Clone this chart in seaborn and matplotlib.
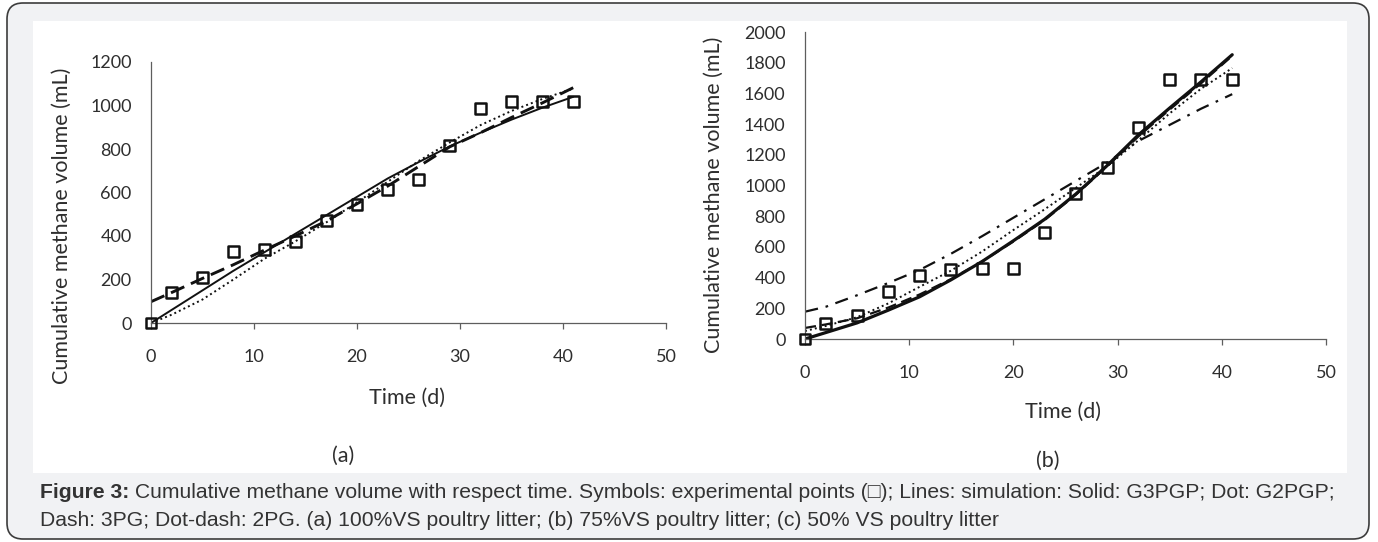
import numpy as np
import pandas as pd
import matplotlib
matplotlib.use("Agg")
import matplotlib.pyplot as plt
import seaborn as sns
from matplotlib.patches import FancyBboxPatch, Rectangle
from matplotlib.transforms import IdentityTransform

sns.set_style("white")
plt.rcParams['font.family'] = ['Lato', 'DejaVu Sans']

# ---------------- data ----------------
time = [0, 2, 5, 8, 11, 14, 17, 20, 23, 26, 29, 32, 35, 38, 41]

# panel (a) 100%VS poultry litter
a_exp = [0, 140, 210, 330, 340, 375, 470, 545, 615, 660, 815, 985, 1018, 1017, 1017]
a_g3pgp = [0, 60, 150, 240, 325, 410, 495, 580, 665, 740, 812, 875, 935, 990, 1040]
a_g2pgp = [0, 38, 108, 200, 295, 375, 462, 555, 650, 745, 830, 910, 975, 1030, 1078]
a_3pg = [98, 140, 205, 268, 335, 400, 468, 548, 630, 720, 810, 875, 945, 1012, 1082]

# panel (b) 75%VS poultry litter
b_exp = [0, 100, 155, 310, 415, 450, 460, 460, 695, 950, 1120, 1375, 1692, 1692, 1692]
b_g3pgp = [0, 42, 105, 188, 275, 385, 505, 640, 780, 945, 1130, 1330, 1505, 1675, 1852]
b_g2pgp = [52, 85, 142, 232, 340, 445, 570, 710, 845, 985, 1125, 1295, 1470, 1630, 1765]
b_3pg = [72, 95, 135, 205, 290, 390, 505, 635, 775, 940, 1125, 1320, 1495, 1665, 1845]
b_2pg = [178, 210, 285, 365, 450, 555, 670, 790, 910, 1030, 1150, 1290, 1395, 1500, 1595]

x_ticks = [0, 10, 20, 30, 40, 50]
a_yticks = [0, 200, 400, 600, 800, 1000, 1200]
b_yticks = [0, 200, 400, 600, 800, 1000, 1200, 1400, 1600, 1800, 2000]

xlabel = "Time (d)"
ylabel = "Cumulative methane volume (mL)"
caption_bold = "Figure 3:"
caption_1 = (" Cumulative methane volume with respect time. Symbols: experimental points (\u25a1); "
             "Lines: simulation: Solid: G3PGP; Dot: G2PGP;")
caption_2 = ("Dash: 3PG; Dot-dash: 2PG. (a) 100%VS poultry litter; (b) 75%VS poultry litter; "
             "(c) 50% VS poultry litter")

W, H = 1378, 542
fig = plt.figure(figsize=(W / 100, H / 100), dpi=100)
fig.patch.set_facecolor('white')

# page frame
frame = FancyBboxPatch((7, 3), 1362, 536, boxstyle="round,pad=0,rounding_size=16",
                       transform=IdentityTransform(), facecolor='#f1f2f4',
                       edgecolor='#3c3c3c', linewidth=1.2, zorder=-3)
fig.add_artist(frame)
fig.add_artist(Rectangle((33, 69), 1314, 452, transform=IdentityTransform(),
                         facecolor='white', edgecolor='none', zorder=-2))

TXT = '#2e2e2e'
AX = '#5e5e5e'


def fpos(l, r, t, b):
    return [l / W, (H - b) / H, (r - l) / W, (b - t) / H]


def style_axes(ax, ymax, yticks):
    ax.set_xlim(0, 50)
    ax.set_ylim(0, ymax)
    ax.set_xticks(x_ticks)
    ax.set_yticks(yticks)
    ax.set_facecolor('none')
    for s in ['top', 'right']:
        ax.spines[s].set_visible(False)
    for s in ['left', 'bottom']:
        ax.spines[s].set_color(AX)
        ax.spines[s].set_linewidth(0.9)
    ax.tick_params(axis='x', direction='out', length=4, width=0.9, color=AX,
                   pad=15, labelsize=13, labelcolor=TXT, bottom=True)
    ax.tick_params(axis='y', length=0, pad=14, labelsize=13, labelcolor=TXT, left=True)
    ax.grid(False)


def draw_line(ax, y, lw, dashes=None):
    df = pd.DataFrame({'t': time, 'v': y})
    sns.lineplot(data=df, x='t', y='v', ax=ax, color='#111111', linewidth=lw,
                 estimator=None, sort=False, legend=False)
    ln = ax.lines[-1]
    if dashes is not None:
        ln.set_dashes(dashes)
        ln.set_dash_capstyle('butt')
    return ln


def draw_points(ax, y):
    df = pd.DataFrame({'t': time, 'v': y})
    sns.scatterplot(data=df, x='t', y='v', ax=ax, marker='s', s=62, color='#111111',
                    edgecolor='#111111', linewidth=1.8, legend=False, zorder=5)
    coll = ax.collections[-1]
    coll.set_facecolor('none')
    coll.set_clip_on(False)


# ---------------- panel (a) ----------------
axa = fig.add_axes(fpos(151, 666, 62, 323))
draw_line(axa, a_g2pgp, 1.4, dashes=(1, 1.6))
draw_line(axa, a_3pg, 2.1, dashes=(5, 2.5))
draw_line(axa, a_g3pgp, 1.4)
draw_points(axa, a_exp)
style_axes(axa, 1200, a_yticks)
axa.set_xlabel(xlabel, fontsize=15.5, color=TXT, va='center')
axa.set_ylabel(ylabel, fontsize=15.5, color=TXT, va='center')
axa.xaxis.set_label_coords((407 - 151) / 515, (323 - 398) / 261)
axa.yaxis.set_label_coords((62 - 151) / 515, (323 - 226) / 261)

# ---------------- panel (b) ----------------
axb = fig.add_axes(fpos(805, 1326, 32, 339))
draw_line(axb, b_2pg, 1.6, dashes=(6, 3.5, 1.2, 3.5))
draw_line(axb, b_3pg, 1.6, dashes=(5, 2.5))
draw_line(axb, b_g2pgp, 1.4, dashes=(1, 1.6))
draw_line(axb, b_g3pgp, 2.3)
draw_points(axb, b_exp)
style_axes(axb, 2000, b_yticks)
axb.set_xlabel(xlabel, fontsize=15.5, color=TXT, va='center')
axb.set_ylabel(ylabel, fontsize=15.5, color=TXT, va='center')
axb.xaxis.set_label_coords((1063 - 805) / 521, (339 - 412) / 307)
axb.yaxis.set_label_coords((714 - 805) / 521, (339 - 195) / 307)

fig.text(343 / W, (H - 456) / H, "(a)", fontsize=15.5, color=TXT, ha='center', va='center')
fig.text(1048 / W, (H - 461) / H, "(b)", fontsize=15.5, color=TXT, ha='center', va='center')

# ---------------- caption ----------------
cap_font = ['Liberation Sans', 'DejaVu Sans']
cap_size = 15.25
y1 = (H - 493) / H
y2 = (H - 520) / H
tb = fig.text(40 / W, y1, caption_bold, fontsize=cap_size, fontweight='bold',
              family=cap_font, color='#333333', va='center', ha='left')
fig.canvas.draw()
bb = tb.get_window_extent(renderer=fig.canvas.get_renderer())
fig.text(bb.x1 / W, y1, caption_1, fontsize=cap_size, family=cap_font,
         color='#333333', va='center', ha='left')
fig.text(40 / W, y2, caption_2, fontsize=cap_size, family=cap_font,
         color='#333333', va='center', ha='left')

fig.savefig("out.png", dpi=100, facecolor=fig.get_facecolor())
